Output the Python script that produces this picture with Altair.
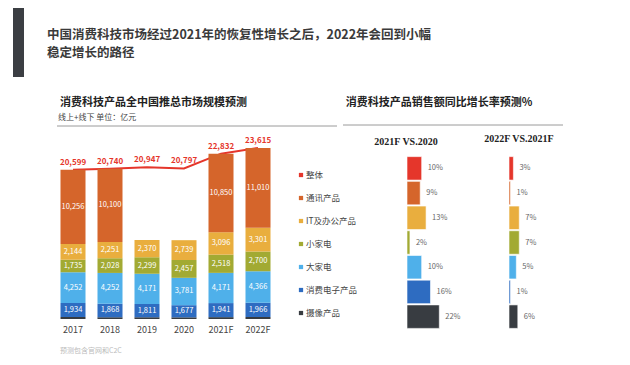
import altair as alt
import pandas as pd

FONT = "Noto Sans CJK SC"

# ---------------- data ----------------
years = ["2017", "2018", "2019", "2020", "2021F", "2022F"]
totals = [20599, 20740, 20947, 20797, 22832, 23615]

seg_names = ["摄像产品", "消费电子产品", "大家电", "小家电", "IT及办公产品", "通讯产品"]
camera = [278, 241, 250, 230, 256, 272]          # thin unlabeled strip, estimated
consumer_elec = [1934, 1868, 1811, 1677, 1941, 1966]
big_appl = [4252, 4252, 4171, 3781, 4171, 4366]
small_appl = [1735, 2028, 2299, 2457, 2518, 2700]
it_office = [2144, 2251, 2370, 2739, 3096, 3301]
telecom = [10256, 10100, None, None, 10850, 11010]
seg_values = [camera, consumer_elec, big_appl, small_appl, it_office, telecom]

categories = ["整体", "通讯产品", "IT及办公产品", "小家电", "大家电", "消费电子产品", "摄像产品"]
growth_2021 = [10, 9, 13, 2, 10, 16, 22]
growth_2022 = [3, 1, 7, 7, 5, 1, 6]

palette = ["#E5362B", "#D5652B", "#E9AE3E", "#A2AA33", "#4FB0EA", "#2E6CC1", "#383C41"]

main_title = ["中国消费科技市场经过2021年的恢复性增长之后，2022年会回到小幅", "稳定增长的路径"]
left_title = "消费科技产品全中国推总市场规模预测"
left_sub = "线上+线下 单位：亿元"
right_title = "消费科技产品销售额同比增长率预测%"
col_heads = ["2021F VS.2020", "2022F VS.2021F"]
source = "预测包含官网和C2C"

# ---------------- tables ----------------
rows = []
for i, yr in enumerate(years):
    base = 0
    for name, vals in zip(seg_names, seg_values):
        v = vals[i]
        if v is None:
            continue
        rows.append(dict(year=yr, seg=name, y0=base, y1=base + v, mid=base + v / 2,
                         label=(f"{v:,}" if name != "摄像产品" else "")))
        base += v
seg_df = pd.DataFrame(rows)
tot_df = pd.DataFrame(dict(year=years, total=totals, label=[f"{t:,}" for t in totals]))
r_df = pd.DataFrame(dict(cat=categories, g1=growth_2021, g2=growth_2022,
                         l1=[f"{v}%" for v in growth_2021], l2=[f"{v}%" for v in growth_2022]))
one = pd.DataFrame({"t": [""]})

# ---------------- scales ----------------
xs = alt.Scale(domain=years, range=[46.5, 268.5], paddingInner=0.324, paddingOuter=0.162)
ys = alt.Scale(domain=[0, 24000], range=[311, 137.2], nice=False, zero=False)
cs = alt.Scale(domain=categories, range=palette)
ry = alt.Scale(domain=categories, range=[148, 321], paddingInner=0.05, paddingOuter=0.025)
ly = alt.Scale(domain=categories, range=[155.5, 316.5], paddingInner=0, paddingOuter=0)
c1x = alt.Scale(domain=[0, 22], range=[399, 431.3], nice=False)
c2x = alt.Scale(domain=[0, 22], range=[501, 533.3], nice=False)

X = lambda: alt.X("year:N", scale=xs, axis=None)

# ---------------- left chart ----------------
line = alt.Chart(tot_df).mark_line(color="#E5362B", strokeWidth=2).encode(
    x=X(), y=alt.Y("total:Q", scale=ys, axis=None))
bars = alt.Chart(seg_df).mark_bar().encode(
    x=X(), y=alt.Y("y1:Q", scale=ys, axis=None), y2="y0:Q",
    color=alt.Color("seg:N", scale=cs, legend=None))
seg_text = alt.Chart(seg_df).transform_filter("datum.label != ''").mark_text(
    color="white", fontSize=7.5, font=FONT, baseline="middle").encode(
    x=X(), y=alt.Y("mid:Q", scale=ys, axis=None), text="label:N")
tot_text = alt.Chart(tot_df).mark_text(
    color="#E5362B", fontSize=8, fontWeight="bold", font=FONT, baseline="bottom", dy=-3).encode(
    x=X(), y=alt.Y("total:Q", scale=ys, axis=None), text="label:N")
year_text = alt.Chart(tot_df).mark_text(
    color="#444444", fontSize=9, font=FONT, baseline="middle").encode(
    x=X(), y=alt.value(322), text="year:N")

# ---------------- right chart ----------------
def bar_col(field, lab, scale):
    b = alt.Chart(r_df).mark_bar(stroke="white", strokeWidth=0.6).encode(
        x=alt.X(f"{field}:Q", scale=scale, axis=None),
        y=alt.Y("cat:N", scale=ry, axis=None),
        color=alt.Color("cat:N", scale=cs, legend=None))
    t = alt.Chart(r_df).mark_text(
        align="left", baseline="middle", dx=6, fontSize=7.5, color="#666666", font=FONT).encode(
        x=alt.X(f"{field}:Q", scale=scale, axis=None),
        y=alt.Y("cat:N", scale=ry, axis=None), text=f"{lab}:N")
    return [b, t]

leg_sq = alt.Chart(r_df).mark_square(size=18, opacity=1).encode(
    x=alt.value(293), y=alt.Y("cat:N", scale=ly, axis=None),
    color=alt.Color("cat:N", scale=cs, legend=None))
leg_tx = alt.Chart(r_df).mark_text(
    align="left", baseline="middle", fontSize=8.5, color="#444444", font=FONT).encode(
    x=alt.value(298), y=alt.Y("cat:N", scale=ly, axis=None), text="cat:N")

# ---------------- decorations / titles ----------------
def txt(s, x, y, **kw):
    return alt.Chart(pd.DataFrame({"t": [s]})).mark_text(font=FONT, **kw).encode(
        x=alt.value(x), y=alt.value(y), text="t:N")

deco = alt.Chart(one).mark_rect(color="#3B3E43").encode(
    x=alt.value(5), x2=alt.value(16), y=alt.value(0), y2=alt.value(69))
rule_l = alt.Chart(one).mark_rule(color="#9A9A9A", strokeWidth=1).encode(
    x=alt.value(49), x2=alt.value(329), y=alt.value(118))
rule_r = alt.Chart(one).mark_rule(color="#9A9A9A", strokeWidth=1).encode(
    x=alt.value(335), x2=alt.value(555), y=alt.value(117))

texts = [
    txt(main_title[0], 39, 27, fontSize=12.5, fontWeight="bold", color="#3A3A3A", align="left", baseline="middle"),
    txt(main_title[1], 39, 45, fontSize=12.5, fontWeight="bold", color="#3A3A3A", align="left", baseline="middle"),
    txt(left_title, 52, 95, fontSize=11, fontWeight="bold", color="#222222", align="left", baseline="middle"),
    txt(left_sub, 50, 110, fontSize=8, color="#444444", align="left", baseline="middle"),
    txt(right_title, 431, 95, fontSize=11, fontWeight="bold", color="#222222", align="center", baseline="middle"),
    txt(source, 52, 343, fontSize=7, color="#BBBBBB", align="left", baseline="middle"),
]
heads = [
    alt.Chart(pd.DataFrame({"t": [col_heads[0]]})).mark_text(
        font="Liberation Serif", fontSize=10, fontWeight="bold", color="#222222", baseline="middle").encode(
        x=alt.value(398), y=alt.value(134), text="t:N"),
    alt.Chart(pd.DataFrame({"t": [col_heads[1]]})).mark_text(
        font="Liberation Serif", fontSize=10, fontWeight="bold", color="#222222", baseline="middle").encode(
        x=alt.value(511), y=alt.value(131), text="t:N"),
]

layers = [deco, rule_l, rule_r, line, bars, seg_text, tot_text, year_text,
          *bar_col("g1", "l1", c1x), *bar_col("g2", "l2", c2x), leg_sq, leg_tx, *texts, *heads]

chart = alt.layer(*layers).resolve_scale(
    x="independent", y="independent", color="independent"
).properties(
    width=614, height=349, autosize=alt.AutoSizeParams(type="none"), padding=0
).configure_view(stroke=None)

chart.save("out.html", embed_options={"renderer": "svg", "actions": False})
